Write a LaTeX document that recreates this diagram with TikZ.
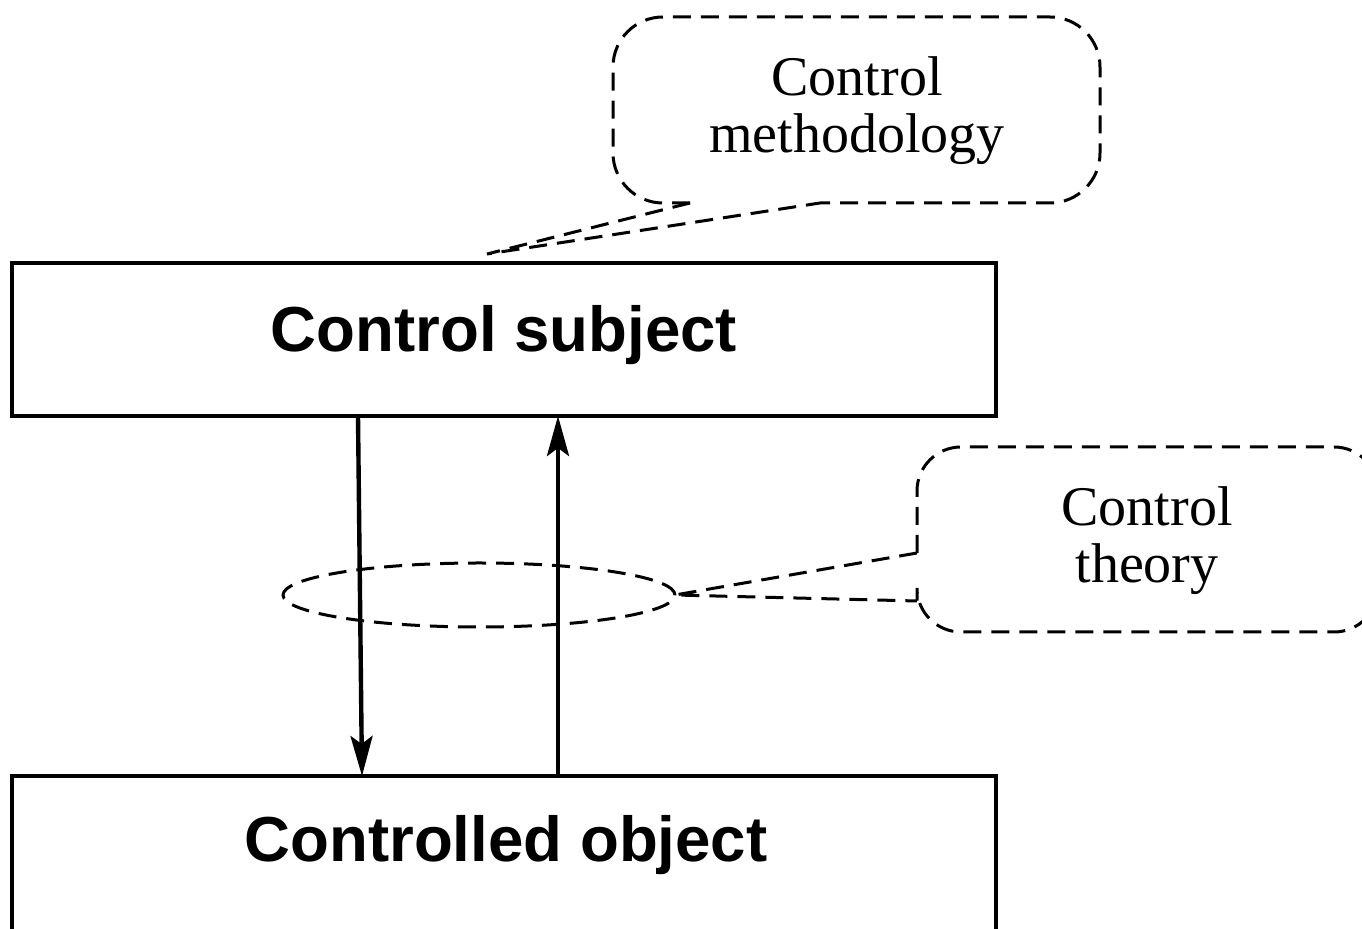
\documentclass[tikz,border=0pt]{standalone}
\usepackage{fontspec}
\setmainfont{Liberation Serif}
\setsansfont{Liberation Sans}
\usetikzlibrary{arrows.meta,calc,shapes.geometric}
\begin{document}
\begin{tikzpicture}[x=0.5pt,y=-0.5pt,
  box/.style={draw, line width=2pt, minimum width=492pt, minimum height=76.5pt, inner sep=0pt, outer sep=0pt},
  boxtext/.style={font=\sffamily\bfseries\fontsize{31.8}{36}\selectfont, anchor=base, inner sep=0pt},
  calltext/.style={font=\fontsize{28}{28.5}\selectfont, align=center, inner sep=0pt},
  callout/.style={line width=1.5pt, dash pattern=on 9pt off 5pt},
  flow/.style={line width=2.2pt, -{Stealth[length=20pt,width=11pt,inset=4pt]}}]
\clip (0,0) rectangle (1362,929);
\useasboundingbox (0,0) rectangle (1362,929);
% boxes
\node[box] (subj) at (504,339.5) {};
\node[boxtext] (subjtxt) at (504,352) {Control subject};
\node[box, minimum height=80pt] (obj) at (504,856) {};
\node[boxtext] (objtxt) at (506,862) {Controlled object};
% arrows
\draw[flow] ($(subj.south west)+(346,0)$) -- ($(obj.north west)+(350,0)$);
\draw[flow] ($(obj.north west)+(546,0)$) -- ($(subj.south west)+(546,0)$);
% callout 1
\node[calltext] (meth) at (857,110.5) {Control\\methodology};
\coordinate (tip1) at (487,254);
\draw[callout, rounded corners=25pt] (690,203) -- (613,203) -- (613,17) -- (1100,17) -- (1100,203) -- (820,203);
\draw[callout] (690,203) -- (tip1) -- (820,203);
% callout 2
\node[calltext] (theo) at (1147,540.5) {Control\\theory};
\node[callout, draw, ellipse, minimum width=196pt, minimum height=32pt, inner sep=0pt, outer sep=0pt] (loop) at (479,595) {};
\draw[callout, rounded corners=22pt] (917,553) -- (917,447) -- (1378,447) -- (1378,632) -- (917,632) -- (917,601);
\draw[callout] (917,553) -- (loop.east) -- (917,601);
\end{tikzpicture}
\end{document}
